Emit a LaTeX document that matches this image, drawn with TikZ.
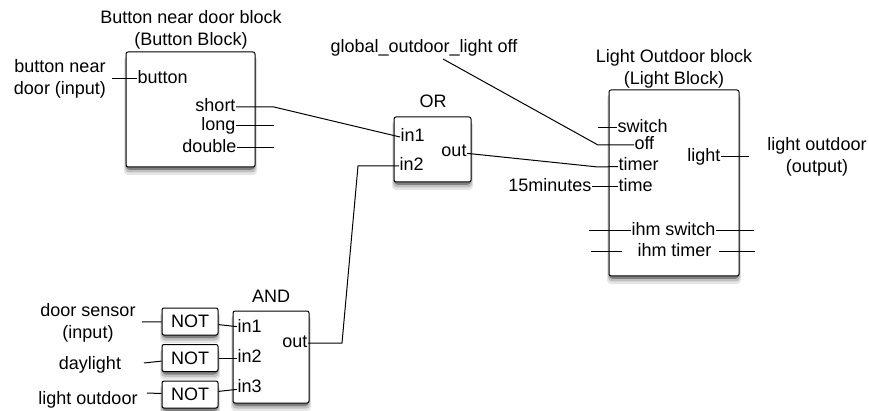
\documentclass[tikz,border=0pt]{standalone}
\usepackage{fontspec}
\setmainfont{Liberation Sans}

\begin{document}
\begin{tikzpicture}[x=1pt, y=-1pt, line width=1pt,
  every node/.style={font=\fontsize{18}{21.5}\selectfont},
  blk/.style={draw, rounded corners=2pt, fill=white, inner sep=0pt},
  shd/.style={rounded corners=4pt},
  pl/.style={inner sep=0pt, anchor=west, text height=12.5pt, text depth=3.5pt},
  pr/.style={inner sep=0pt, anchor=east, text height=12.5pt, text depth=3.5pt},
  ttl/.style={align=center, inner sep=0pt}]
\useasboundingbox (0,0) rectangle (869,411);

% shadows
\foreach \xa/\ya/\xb/\yb in {126/52/255/167, 394/117/471/182, 609/90/739/276,
    233/311/309/403, 162/308/218/335, 162/344.5/218/371.5, 162/381/218/408} {
  \fill[shd, black!10] (\xa-2,\ya+4) rectangle (\xb+2,\yb+8);
  \fill[shd, black!25] (\xa-1,\ya+3) rectangle (\xb+1,\yb+5.5);
  \fill[shd, black!50] (\xa,\ya+2) rectangle (\xb,\yb+3);
}

% blocks
\node (btn) at (190.5,109.5) [blk, minimum width=129pt, minimum height=115pt]{};
\node (orb) at (432.5,149.5) [blk, minimum width=77pt, minimum height=65pt]{};
\node (lgt) at (674,183) [blk, minimum width=130pt, minimum height=186pt]{};
\node (andb) at (271,357) [blk, minimum width=76pt, minimum height=92pt]{};
\node (not1) at (190,321.5) [blk, minimum width=56pt, minimum height=27pt]{NOT};
\node (not2) at (190,358) [blk, minimum width=56pt, minimum height=27pt]{NOT};
\node (not3) at (190,394.5) [blk, minimum width=56pt, minimum height=27pt]{NOT};

% titles and labels
\node (btnt) at (191,30) [ttl]{Button near door block\\(Button Block)};
\node (lgtt) at (674,69) [ttl]{Light Outdoor block\\(Light Block)};
\node (ort) at (433,101) [ttl]{OR};
\node (andt) at (271,296) [ttl]{AND};
\node (gol) at (424,48) [ttl]{global\_outdoor\_light off};
\node (bnd) at (60,79) [ttl]{button near\\door (input)};
\node (lout) at (817,157) [ttl]{light outdoor\\(output)};
\node (ds) at (88,323) [ttl]{door sensor\\(input)};
\node (dl) at (90,365) [ttl]{daylight};
\node (lo) at (88,400) [ttl]{light outdoor};
\node (min) at (592,187) [pr]{15minutes};

% ports
\node (button) at (137,79) [pl]{button};
\node (short) at (236,107) [pr]{short};
\node (long) at (236,126) [pr]{long};
\node (double) at (237,148) [pr]{double};
\node (in1) at (400,137) [pl]{in1};
\node (in2) at (399,166) [pl]{in2};
\node (out) at (467,152) [pr]{out};
\node (switch) at (617,128) [pl]{switch};
\node (off) at (634,145) [pl]{off};
\node (timer) at (618,166) [pl]{timer};
\node (time) at (618,187) [pl]{time};
\node (light) at (721,157) [pr]{light};
\node (ihms) at (631,231) [pl]{ihm switch};
\node (ihmt) at (637,252) [pl]{ihm timer};
\node (ain1) at (237,328) [pl]{in1};
\node (ain2) at (237,358) [pl]{in2};
\node (ain3) at (237,388) [pl]{in3};
\node (aout) at (308,343) [pr]{out};

% free ends
\coordinate (c1) at (112,79);
\coordinate (c2) at (274,107);
\coordinate (c3) at (274,126);
\coordinate (c4) at (274,148);
\coordinate (c5) at (443,59);
\coordinate (c6) at (598,145);
\coordinate (c7) at (598,128);
\coordinate (c8) at (598,167);
\coordinate (c9) at (749,157);
\coordinate (c10) at (589,231);
\coordinate (c11) at (754,231);
\coordinate (c12) at (591,252);
\coordinate (c13) at (622,252);
\coordinate (c14) at (719,252);
\coordinate (c15) at (755,252);
\coordinate (c16) at (358,166);
\coordinate (c17) at (342,343);
\coordinate (c18) at (142,322);
\coordinate (c19) at (144,363);
\coordinate (c20) at (147,393);

% connectors
\draw (c1) -- (button);
\draw (short) -- (c2) -- (in1.west);
\draw (long) -- (c3);
\draw (double) -- (c4);
\draw (c5) -- (c6) -- (off);
\draw (c7) -- (switch);
\draw (out) -- (c8) -- (timer);
\draw (min) -- (time);
\draw (light) -- (c9);
\draw (c10) -- (ihms.west);
\draw (ihms.east) -- (c11);
\draw (c12) -- (c13);
\draw (c14) -- (c15);
\draw (in2) -- (c16) -- (c17) -- (aout);
\draw (not1) -- (ain1);
\draw (not2) -- (ain2);
\draw (not3) -- (ain3);
\draw (c18) -- (not1);
\draw (c19) -- (not2);
\draw (c20) -- (not3);
\end{tikzpicture}
\end{document}
